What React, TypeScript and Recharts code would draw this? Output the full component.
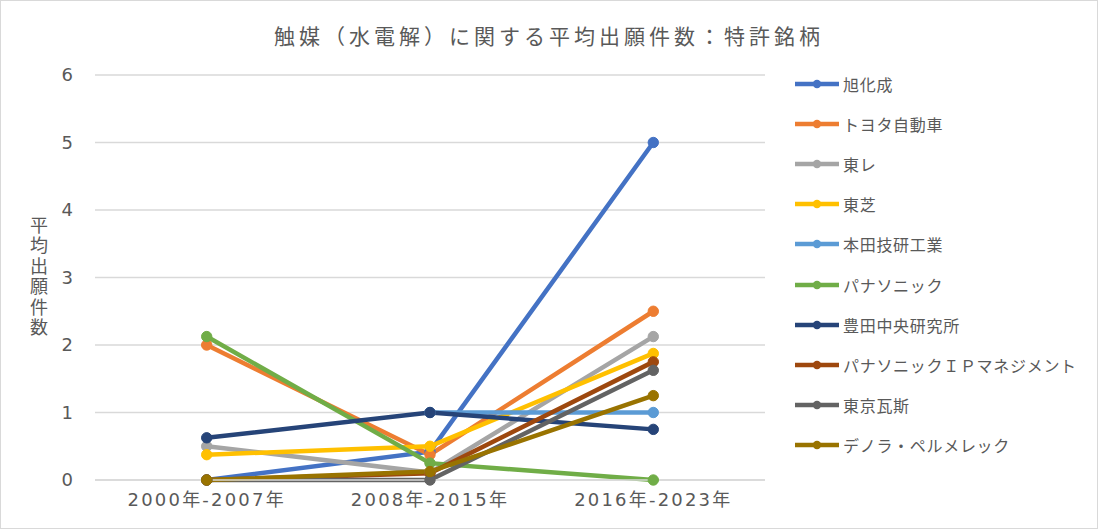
import React from 'react';
import { LineChart, Line, XAxis, YAxis, CartesianGrid } from 'recharts';

const categories = ['2000年-2007年', '2008年-2015年', '2016年-2023年'];
const yTicks = [0, 1, 2, 3, 4, 5, 6];

const asahi = [0, 0.42, 5];
const toyota = [2, 0.375, 2.5];
const toray = [0.5, 0.11, 2.125];
const toshiba = [0.375, 0.5, 1.875];
const honda = [null, 1, 1];
const panasonic = [2.125, 0.25, 0];
const toyotaCRDL = [0.625, 1, 0.75];
const panasonicIP = [0, 0.1, 1.75];
const tokyoGas = [0, 0, 1.625];
const denora = [0, 0.125, 1.25];

const seriesNames = [
  '旭化成',
  'トヨタ自動車',
  '東レ',
  '東芝',
  '本田技研工業',
  'パナソニック',
  '豊田中央研究所',
  'パナソニックＩＰマネジメント',
  '東京瓦斯',
  'デノラ・ペルメレック',
];
const seriesValues = [asahi, toyota, toray, toshiba, honda, panasonic, toyotaCRDL, panasonicIP, tokyoGas, denora];
const seriesColors = [
  '#4472C4',
  '#ED7D31',
  '#A5A5A5',
  '#FFC000',
  '#5B9BD5',
  '#70AD47',
  '#264478',
  '#9E480E',
  '#636363',
  '#997300',
];

const data = categories.map((c, i) => {
  const row: Record<string, any> = { category: c };
  seriesValues.forEach((vals, s) => {
    row['s' + s] = vals[i];
  });
  return row;
});

const TEXT = '#595959';
const CJK = '"Noto Sans CJK JP", "Noto Sans", sans-serif';
const NUM = '"DejaVu Sans", "Noto Sans CJK JP", sans-serif';
const yLabel = '平均出願件数';

const YLabel = () => (
  <text
    x={39}
    y={216}
    fill={TEXT}
    fontSize={18}
    fontFamily={CJK}
    style={{ writingMode: 'vertical-rl', letterSpacing: 2.5 } as any}
  >
    {yLabel}
  </text>
);

export default function App() {
  return (
    <div
      style={{
        position: 'absolute',
        left: 0,
        top: 0,
        width: 1098,
        height: 529,
        background: '#fff',
        overflow: 'hidden',
      }}
    >
      <div
        style={{
          position: 'absolute',
          left: 0,
          top: 20,
          width: 1098,
          textAlign: 'center',
          fontSize: 21,
          letterSpacing: 4,
          color: TEXT,
          fontFamily: CJK,
          lineHeight: '30px',
          whiteSpace: 'nowrap',
        }}
      >
        触媒（水電解）に関する平均出願件数：特許銘柄
      </div>
      <div style={{ position: 'absolute', left: 0, top: 0 }}>
        <LineChart width={1098} height={529} data={data} margin={{ top: 75, right: 333, bottom: 0, left: 0 }}>
          <CartesianGrid vertical={false} stroke="#d9d9d9" strokeWidth={1.3} />
          <XAxis
            dataKey="category"
            height={49}
            padding={{ left: 111.7, right: 111.7 }}
            axisLine={{ stroke: '#d9d9d9', strokeWidth: 1.3 }}
            tickLine={false}
            tickSize={0}
            tickMargin={13}
            tick={{ fontSize: 18, fill: TEXT, fontFamily: NUM, letterSpacing: 2.2 } as any}
            interval={0}
          />
          <YAxis
            domain={[0, 6]}
            ticks={yTicks}
            width={95}
            axisLine={false}
            tickLine={false}
            tickSize={0}
            tickMargin={22}
            tick={{ fontSize: 18, fill: TEXT, fontFamily: NUM }}
            label={{ content: () => <YLabel /> } as any}
          />
          {seriesNames.map((name, s) => (
            <Line
              key={name}
              type="linear"
              dataKey={'s' + s}
              name={name}
              stroke={seriesColors[s]}
              strokeWidth={4.5}
              dot={{ r: 5.2, fill: seriesColors[s], stroke: seriesColors[s], strokeWidth: 1 }}
              activeDot={false}
              isAnimationActive={false}
              connectNulls={false}
            />
          ))}
        </LineChart>
      </div>
      <div style={{ position: 'absolute', left: 795, top: 64 }}>
        {seriesNames.map((name, s) => (
          <div
            key={name}
            style={{ height: 40.1, display: 'flex', alignItems: 'center', whiteSpace: 'nowrap' }}
          >
            <svg width={48} height={12} style={{ flex: 'none' }}>
              <line x1={0} y1={6} x2={44} y2={6} stroke={seriesColors[s]} strokeWidth={4.5} />
              <circle cx={22} cy={6} r={4.2} fill={seriesColors[s]} />
            </svg>
            <span style={{ fontSize: 16, color: TEXT, fontFamily: CJK, letterSpacing: 0.7 }}>{name}</span>
          </div>
        ))}
      </div>
      <div
        style={{
          position: 'absolute',
          left: 0,
          top: 0,
          width: 1098,
          height: 529,
          boxSizing: 'border-box',
          border: '1px solid #d9d9d9',
          pointerEvents: 'none',
        }}
      />
    </div>
  );
}
